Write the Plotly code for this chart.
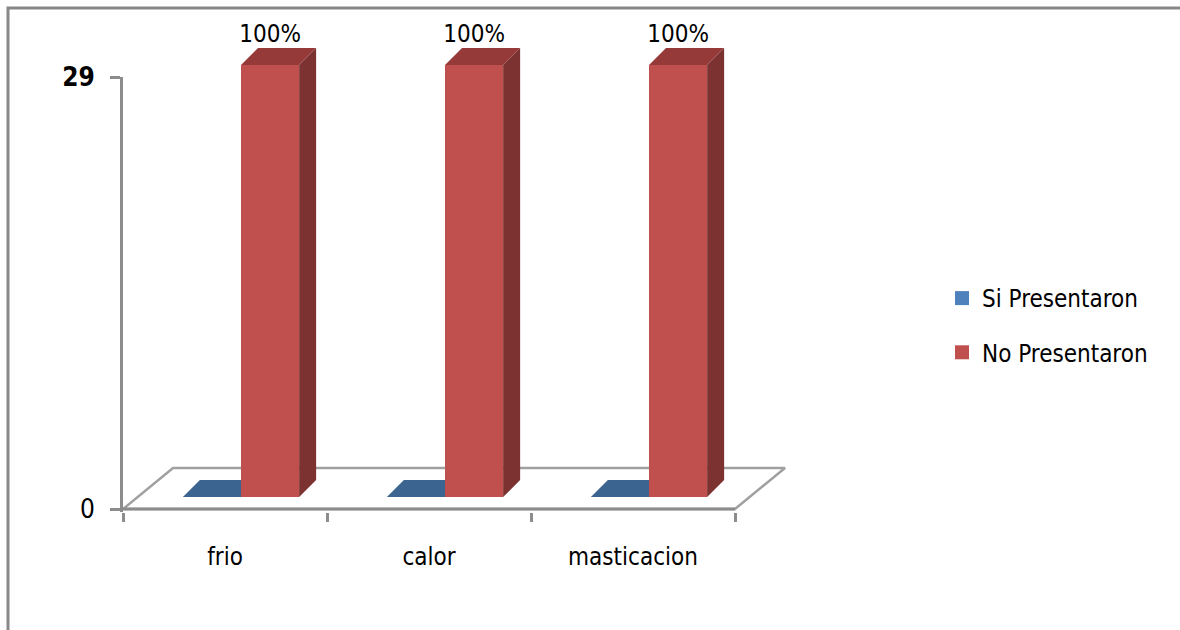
import plotly.graph_objects as go

# ---------------- data ----------------
categories = ["frio", "calor", "masticacion"]
series_names = ["Si Presentaron", "No Presentaron"]
si_values = [0, 0, 0]
no_values = [29, 29, 29]
pct_labels = ["100%", "100%", "100%"]
y_tick_vals = [0, 29]
y_tick_text = ["0", "<b>29</b>"]

# ---------------- styles / geometry ----------------
FONT = "DejaVu Sans Condensed, Liberation Sans Narrow, Lato, sans-serif"
FS = 24
front_colors = ["#4F81BD", "#C0504D"]
top_colors = ["#3C6491", "#953A38"]
side_colors = ["#2F5075", "#7B3230"]
GRID = "#8C8C8C"

W_FIG, H_FIG = 1180, 630
L, R_PX, T, B = 123, 820, 20, 512
PW, PH = R_PX - L, B - T
ZERO_PX = 509            # pixel row of value 0 on the front axis
TOP_PX = 77              # pixel row of the max tick
YMAX = y_tick_vals[-1]
PXX = 204.0              # pixels per category
PXY = (ZERO_PX - TOP_PX) / YMAX
SHX, SHY = 16, ZERO_PX - 497 + (B - ZERO_PX)   # shift of the bar plane
BARGAP = 0.43
n_series = 2
bw = (1 - BARGAP) / n_series
ddx, ddy = 17 / PXX, 17 / PXY            # bar depth
fdx, fdy = 50 / PXX, 41 / PXY            # floor depth

x_rng = [-0.5, -0.5 + (PW - SHX) / PXX]
y1_rng = [-(B - ZERO_PX) / PXY, YMAX]
y2_rng = [0, (B - SHY - T) / PXY]

fig = go.Figure()

# ---- floor (subplot 1) ----
n = len(categories)
fx = [-0.5, n - 0.5, n - 0.5 + fdx, -0.5 + fdx, -0.5]
fy = [0, 0, fdy, fdy, 0]
fig.add_trace(go.Scatter(x=fx, y=fy, mode="lines", fill="toself",
                         fillcolor="white", line=dict(color="#A0A0A0", width=2.5),
                         hoverinfo="skip", showlegend=False, xaxis="x", yaxis="y"))
fig.add_trace(go.Scatter(x=[-0.5, n - 0.5], y=[0, 0], mode="lines",
                         line=dict(color=GRID, width=3),
                         hoverinfo="skip", showlegend=False, xaxis="x", yaxis="y"))

series_values = [si_values, no_values]


def depth_polys(j, axis_x, axis_y):
    for i, v in enumerate(series_values[j]):
        l = i - (1 - BARGAP) / 2 + j * bw
        r = l + bw
        # top face
        fig.add_trace(go.Scatter(
            x=[l, l + ddx, r + ddx, r, l], y=[v, v + ddy, v + ddy, v, v],
            mode="lines", fill="toself", fillcolor=top_colors[j],
            line=dict(width=0), hoverinfo="skip", showlegend=False,
            xaxis=axis_x, yaxis=axis_y))
        if v > 0:
            fig.add_trace(go.Scatter(
                x=[r, r + ddx, r + ddx, r, r], y=[0, ddy, v + ddy, v, 0],
                mode="lines", fill="toself", fillcolor=side_colors[j],
                line=dict(width=0), hoverinfo="skip", showlegend=False,
                xaxis=axis_x, yaxis=axis_y))


# ---- series 0 depth faces (behind) : subplot 2 ----
depth_polys(0, "x2", "y2")

# ---- bars front faces : subplot 3 ----
for j in range(n_series):
    fig.add_trace(go.Bar(x=list(range(n)), y=series_values[j], name=series_names[j],
                         marker=dict(color=front_colors[j], line=dict(width=0)),
                         showlegend=False, xaxis="x3", yaxis="y3",
                         hoverinfo="skip"))
depth_polys(1, "x3", "y3")

# ---- legend entries (square markers) ----
for j in range(n_series):
    fig.add_trace(go.Scatter(x=[None], y=[None], mode="markers", name=series_names[j],
                             marker=dict(symbol="square", size=14, color=front_colors[j]),
                             legendgroup=series_names[j], xaxis="x3", yaxis="y3"))

# ---- percent labels ----
fig.add_trace(go.Scatter(
    x=[i - (1 - BARGAP) / 2 + 1 * bw + bw / 2 for i in range(n)],
    y=[v + ddy for v in no_values], text=pct_labels, mode="text",
    textposition="top center", textfont=dict(family=FONT, size=FS, color="black"),
    cliponaxis=False, hoverinfo="skip", showlegend=False, xaxis="x3", yaxis="y3"))

d1x = (PW - SHX) / PW
fig.update_layout(
    width=W_FIG, height=H_FIG,
    margin=dict(l=L, r=W_FIG - R_PX, t=T, b=H_FIG - B, pad=0, autoexpand=False),
    paper_bgcolor="white", plot_bgcolor="rgba(0,0,0,0)",
    barmode="group", bargap=BARGAP, bargroupgap=0,
    font=dict(family=FONT, size=FS, color="black"),
    xaxis=dict(domain=[0, d1x], range=x_rng, anchor="y", automargin=False,
               showgrid=False, zeroline=False, showline=False,
               tickmode="array", tickvals=list(range(n)), ticktext=categories,
               ticks="", ticklabelstandoff=28,
               tickfont=dict(family=FONT, size=FS, color="black"),
               minor=dict(tickmode="array", tickvals=[i - 0.5 for i in range(n + 1)],
                          ticks="outside", ticklen=9, tickwidth=3, tickcolor=GRID)),
    yaxis=dict(domain=[0, (B - TOP_PX) / PH], range=y1_rng, anchor="x", automargin=False,
               showgrid=False, zeroline=False, showline=True, linecolor=GRID,
               linewidth=3, tickmode="array", tickvals=y_tick_vals,
               ticktext=y_tick_text, ticks="outside", ticklen=10, tickwidth=3,
               tickcolor=GRID, ticklabelstandoff=10,
               tickfont=dict(family=FONT, size=26, color="black")),
    xaxis2=dict(domain=[SHX / PW, 1], range=x_rng, anchor="y2", visible=False),
    yaxis2=dict(domain=[SHY / PH, 1], range=y2_rng, anchor="x2", visible=False),
    xaxis3=dict(domain=[SHX / PW, 1], range=x_rng, anchor="y3", visible=False),
    yaxis3=dict(domain=[SHY / PH, 1], range=y2_rng, anchor="x3", visible=False),
    legend=dict(x=(942 - L) / PW, y=(B - 276) / PH, xanchor="left", yanchor="top",
                traceorder="grouped", tracegroupgap=20,
                font=dict(family=FONT, size=FS, color="black"),
                bgcolor="rgba(0,0,0,0)"),
    showlegend=True,
    shapes=[dict(type="rect", xref="paper", yref="paper",
                 x0=(8 - L) / PW, x1=(1200 - L) / PW,
                 y0=(B - 650) / PH, y1=(B - 8) / PH,
                 line=dict(color="#878787", width=3), fillcolor="rgba(0,0,0,0)",
                 layer="below")],
)

fig.write_html("out.html")
